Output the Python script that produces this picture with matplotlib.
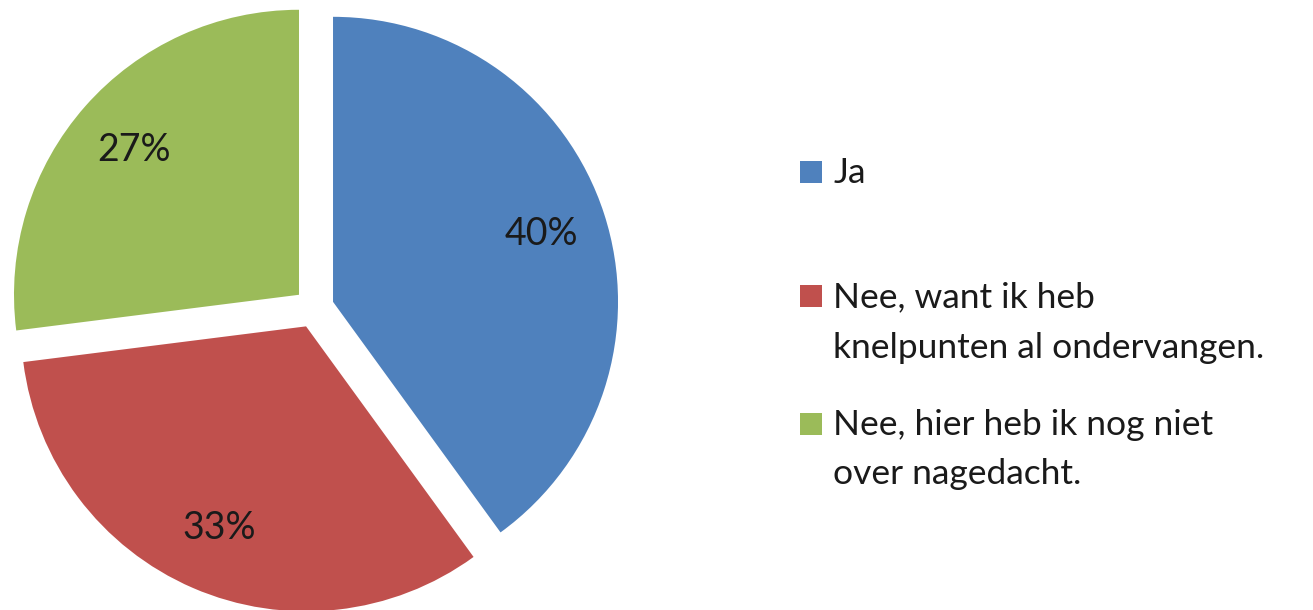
import matplotlib
matplotlib.use("Agg")
import matplotlib.pyplot as plt
from matplotlib.patches import Rectangle

labels = ["Ja",
          "Nee, want ik heb\nknelpunten al ondervangen.",
          "Nee, hier heb ik nog niet\nover nagedacht."]
values = [40, 33, 27]
colors = ["#4F81BD", "#C0504D", "#9BBB59"]

W, H = 1313, 610
R = 285.0          # pie radius in pixels
cx, cy = 314, 308  # pie centre, pixels from top-left

plt.rcParams['font.family'] = ['Lato', 'DejaVu Sans']

fig = plt.figure(figsize=(W / 100, H / 100), dpi=100)
ax = fig.add_axes([0, 0, 1, 1])

wedges, texts, autotexts = ax.pie(values, colors=colors, startangle=90, counterclock=False,
                                  explode=[20 / R] * len(values), autopct='%1.0f%%',
                                  pctdistance=0.77, wedgeprops=dict(linewidth=0),
                                  textprops=dict(fontsize=27, color='#1a1a1a'))
ax.set_aspect('auto')
ax.set_xlim(-cx / R, (W - cx) / R)
ax.set_ylim(-(H - cy) / R, cy / R)
ax.axis('off')

# legend drawn by hand so rows sit where the original puts them
sq = 22
rows = [(172, [183]), (296, [307, 358]), (424, [435, 484])]
for (sq_y, baselines), lab, col in zip(rows, labels, colors):
    fig.patches.append(Rectangle((800 / W, 1 - (sq_y + sq / 2) / H), sq / W, sq / H,
                                 transform=fig.transFigure, color=col, lw=0))
    for line, by in zip(lab.split("\n"), baselines):
        fig.text(833 / W, 1 - by / H, line, fontsize=25.5, color='#1a1a1a',
                 ha='left', va='baseline')

fig.savefig("out.png", dpi=100)
